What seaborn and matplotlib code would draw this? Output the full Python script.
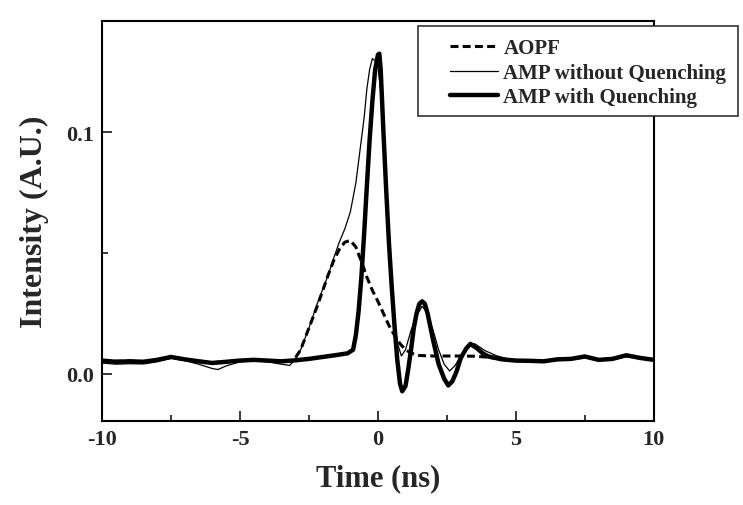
import matplotlib
matplotlib.use("Agg")
import matplotlib.pyplot as plt
from matplotlib.patches import Rectangle
from matplotlib.ticker import MultipleLocator, FormatStrFormatter
import seaborn as sns

# AOPF (dashed)
aopf_t = [-10, -9.5, -9, -8.5, -8, -7.5, -7, -6.5, -6, -5.5, -5, -4.5, -4, -3.5,
          -3.2, -3.0, -2.8, -2.5, -2.2, -2.0, -1.8, -1.6, -1.4, -1.2, -1.0, -0.8,
          -0.6, -0.4, -0.2, 0.0, 0.2, 0.4, 0.6, 0.8, 1.0, 1.2, 1.5, 2.0, 2.5, 3.0,
          3.5, 4.0, 4.5, 5.0, 5.5, 6.0, 6.5, 7.0, 7.5, 8.0, 8.5, 9.0, 9.5, 10.0]
aopf_i = [0.0055, 0.0052, 0.0053, 0.0051, 0.0057, 0.0068, 0.0060, 0.0053, 0.0047, 0.0050,
          0.0055, 0.0057, 0.0055, 0.0052,
          0.0052, 0.0065, 0.0100, 0.0190, 0.0280, 0.0345, 0.0410, 0.0470, 0.0515, 0.0545, 0.0552, 0.0525,
          0.0465, 0.0400, 0.0345, 0.0300, 0.0250, 0.0200, 0.0160, 0.0125, 0.0100, 0.0086, 0.0076, 0.0074, 0.0074, 0.0074,
          0.0073, 0.0069, 0.0061, 0.0055, 0.0054, 0.0052, 0.0060, 0.0062, 0.0070, 0.0058, 0.0062, 0.0075, 0.0066, 0.0058]

# AMP without quenching (thin)
free_t = [-10, -9.5, -9, -8.5, -8, -7.5, -7, -6.5, -6, -5.8, -5.5, -5, -4.5, -4, -3.5,
          -3.2, -3.0, -2.8, -2.5, -2.2, -2.0, -1.8, -1.6, -1.4, -1.2, -1.0, -0.8, -0.6,
          -0.5, -0.4, -0.3, -0.2, -0.1, 0.0, 0.1, 0.2, 0.3, 0.4, 0.5, 0.6, 0.7, 0.85,
          1.0, 1.2, 1.4, 1.6, 1.8, 2.0, 2.2, 2.4, 2.6, 2.8, 3.0, 3.3, 3.5, 3.9, 4.3,
          4.7, 5.0, 5.5, 6.0, 6.5, 7.0, 7.5, 8.0, 8.5, 9.0, 9.5, 10.0]
free_i = [0.0045, 0.0040, 0.0042, 0.0041, 0.0050, 0.0065, 0.0055, 0.0040, 0.0022, 0.0018, 0.0033, 0.0050, 0.0055, 0.0050, 0.0040,
          0.0035, 0.0060, 0.0100, 0.0190, 0.0290, 0.0350, 0.0410, 0.0480, 0.0545, 0.0600, 0.0670, 0.0790, 0.0970,
          0.1060, 0.1180, 0.1260, 0.1305, 0.1295, 0.1270, 0.1170, 0.0980, 0.0760, 0.0550, 0.0360, 0.0220, 0.0130, 0.0074,
          0.0100, 0.0180, 0.0240, 0.0280, 0.0250, 0.0180, 0.0100, 0.0040, 0.0012, 0.0035, 0.0075, 0.0115, 0.0125, 0.0095, 0.0075,
          0.0062, 0.0058, 0.0055, 0.0052, 0.0060, 0.0063, 0.0072, 0.0058, 0.0063, 0.0076, 0.0066, 0.0058]

# AMP with quenching (thick)
quench_t = [-10, -9.5, -9, -8.5, -8, -7.5, -7, -6.5, -6, -5.5, -5, -4.5, -4, -3.5, -3.0,
            -2.5, -2.0, -1.5, -1.1, -0.9, -0.8, -0.7, -0.6, -0.5, -0.4, -0.3, -0.2, -0.1,
            0.0, 0.05, 0.1, 0.2, 0.3, 0.4, 0.5, 0.6, 0.7, 0.8, 0.88, 1.0, 1.1, 1.2, 1.3,
            1.4, 1.5, 1.6, 1.7, 1.8, 2.0, 2.2, 2.4, 2.55, 2.7, 2.85, 3.0, 3.2, 3.35, 3.6,
            3.8, 4.0, 4.5, 5.0, 5.5, 6.0, 6.5, 7.0, 7.5, 8.0, 8.5, 9.0, 9.5, 10.0]
quench_i = [0.0055, 0.0050, 0.0052, 0.0050, 0.0058, 0.0070, 0.0060, 0.0052, 0.0045, 0.0050, 0.0055, 0.0058, 0.0055, 0.0052, 0.0056,
            0.0062, 0.0070, 0.0078, 0.0085, 0.0100, 0.0160, 0.0260, 0.0400, 0.0580, 0.0780, 0.0970, 0.1130, 0.1260,
            0.1320, 0.1325, 0.1260, 0.1000, 0.0760, 0.0540, 0.0360, 0.0200, 0.0060, -0.0040, -0.0072, -0.0050, 0.0020, 0.0100, 0.0190,
            0.0250, 0.0290, 0.0300, 0.0290, 0.0250, 0.0140, 0.0040, -0.0020, -0.0048, -0.0030, 0.0010, 0.0065, 0.0105, 0.0124, 0.0105,
            0.0085, 0.0072, 0.0060, 0.0055, 0.0054, 0.0052, 0.0060, 0.0062, 0.0072, 0.0058, 0.0062, 0.0077, 0.0066, 0.0058]

sns.set_style("ticks")
plt.rcParams['font.family'] = ['Liberation Serif', 'DejaVu Serif']
plt.rcParams['font.weight'] = 'bold'
plt.rcParams['axes.unicode_minus'] = False

fig = plt.figure(figsize=(7.43, 5.06), dpi=100)
ax = fig.add_axes([0.1373, 0.166, 0.7427, 0.7905])

sns.lineplot(x=aopf_t, y=aopf_i, ax=ax, color='black', linewidth=2.2,
             linestyle=(0, (2.6, 1.4)), label='AOPF', sort=False)
sns.lineplot(x=free_t, y=free_i, ax=ax, color='black', linewidth=0.9,
             label='AMP without Quenching', sort=False)
sns.lineplot(x=quench_t, y=quench_i, ax=ax, color='black', linewidth=3.2,
             label='AMP with Quenching', sort=False)

ax.set_xlim(-10, 10)
ax.set_ylim(-0.0195, 0.146)
ax.xaxis.set_major_locator(MultipleLocator(5))
ax.xaxis.set_minor_locator(MultipleLocator(2.5))
ax.yaxis.set_major_locator(MultipleLocator(0.1))
ax.yaxis.set_minor_locator(MultipleLocator(0.05))
ax.yaxis.set_major_formatter(FormatStrFormatter('%.1f'))
ax.tick_params(which='major', direction='in', length=7, width=1.3,
               labelsize=16, pad=6, top=False, right=False)
ax.tick_params(which='minor', direction='in', length=4.5, width=1.3,
               top=False, right=False)
for lab in ax.get_xticklabels() + ax.get_yticklabels():
    lab.set_fontweight('bold')
for sp in ax.spines.values():
    sp.set_linewidth(1.5)
    sp.set_color('black')

ax.set_xlabel('Time (ns)', fontsize=22, fontweight='bold', labelpad=10)
ax.set_ylabel('Intensity (A.U.)', fontsize=23, fontweight='bold', labelpad=12)

# legend box sticks out past the right edge of the axes
ax.get_legend().remove()
box = Rectangle((0.5626, 0.7688), 0.4307, 0.1779, transform=fig.transFigure,
                facecolor='white', edgecolor='#333333', linewidth=1.2, zorder=5)
fig.patches.append(box)
handles, labels = ax.get_legend_handles_labels()
leg = fig.legend(handles, labels, loc='upper left', bbox_to_anchor=(0.592, 0.943),
                 frameon=False, borderpad=0, handlelength=2.3, handletextpad=0.25,
                 labelspacing=0.22, prop={'family': 'Liberation Serif', 'weight': 'bold', 'size': 15})
leg.set_zorder(6)

fig.savefig('out.png', dpi=100)
